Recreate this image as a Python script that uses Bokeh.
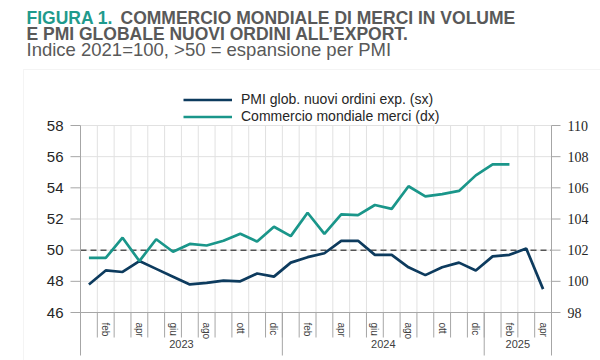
from bokeh.plotting import figure
from bokeh.models import (Range1d, LinearAxis, FixedTicker, Label, Legend, LegendItem,
                          BoxAnnotation)
from bokeh.embed import file_html
from bokeh.resources import INLINE

# ---------------- data ----------------
months = ["gen", "feb", "mar", "apr", "mag", "giu", "lug", "ago", "set", "ott", "nov", "dic",
          "gen", "feb", "mar", "apr", "mag", "giu", "lug", "ago", "set", "ott", "nov", "dic",
          "gen", "feb", "mar", "apr"]
years = ["2023", "2024", "2025"]
year_months = [12, 12, 4]
pmi = [47.8, 48.7, 48.6, 49.3, 48.8, 48.3, 47.8, 47.9, 48.05, 48.0, 48.5, 48.3,
       49.2, 49.55, 49.8, 50.6, 50.6, 49.7, 49.7, 48.9, 48.4, 48.9, 49.2, 48.7,
       49.6, 49.7, 50.1, 47.5]
trade = [101.5, 101.5, 102.8, 101.3, 102.7, 101.9, 102.4, 102.3, 102.6, 103.05, 102.55, 103.5,
         102.9, 104.4, 103.05, 104.3, 104.25, 104.9, 104.65, 106.1, 105.45, 105.6, 105.8, 106.8,
         107.5, 107.5]
left_ticks = [46, 48, 50, 52, 54, 56, 58]
right_ticks = [98, 100, 102, 104, 106, 108, 110]
threshold = 50
pmi_label = "PMI glob. nuovi ordini exp. (sx)"
trade_label = "Commercio mondiale merci (dx)"
title_a = "FIGURA 1."
title_b = "COMMERCIO MONDIALE DI MERCI IN VOLUME"
title_c = "E PMI GLOBALE NUOVI ORDINI ALL\u2019EXPORT."
subtitle = "Indice 2021=100, >50 = espansione per PMI"

NAVY = "#0d3b5e"
TEAL = "#1a968a"
TITLE_TEAL = "#1f9a8c"
GRAY = "#595959"
AXIS = "#a6a6a6"
GRID = "#e1e1e1"
FONT = "Liberation Sans"

W, H = 600, 360
# plot-area placement on the canvas (pixels)
PL, PR, PT, PB = 80, 551, 125, 312

n = len(months)
x_pmi = [i + 0.5 for i in range(len(pmi))]
x_trade = [i + 0.5 for i in range(len(trade))]

sx = (PR - PL) / n
sy = (PB - PT) / (left_ticks[-1] - left_ticks[0])
sr = (PB - PT) / (right_ticks[-1] - right_ticks[0])
x_range = Range1d(-PL / sx, n + (W - PR) / sx)
y_range = Range1d(left_ticks[0] - (H - PB) / sy, left_ticks[-1] + PT / sy)
r_range = Range1d(right_ticks[0] - (H - PB) / sr, right_ticks[-1] + PT / sr)

p = figure(width=W, height=H, x_range=x_range, y_range=y_range,
           x_axis_type=None, y_axis_type=None,
           output_backend="svg", toolbar_location=None,
           min_border=0, min_border_left=0, min_border_right=0,
           min_border_top=0, min_border_bottom=0)
p.outline_line_color = None
p.xgrid.visible = False
p.ygrid.visible = False
p.background_fill_color = "white"
p.border_fill_color = "white"
p.extra_y_ranges = {"right": r_range}

# grid (inside plot area only)
vx = list(range(1, n))
p.segment(x0=vx, y0=[left_ticks[0]] * len(vx), x1=vx, y1=[left_ticks[-1]] * len(vx),
          line_color=GRID, line_width=1)
p.segment(x0=[0] * len(left_ticks), y0=left_ticks, x1=[n] * len(left_ticks), y1=left_ticks,
          line_color=GRID, line_width=1)

# tick marks (lengths in pixels converted through the scales)
bounds = [0]
for m in year_months:
    bounds.append(bounds[-1] + m)
mb = list(range(n + 1))
base = left_ticks[0]
p.segment(x0=mb, y0=[base] * len(mb), x1=mb, y1=[base - 25 / sy] * len(mb),
          line_color=AXIS, line_width=1)
p.segment(x0=bounds, y0=[base] * len(bounds), x1=bounds, y1=[base - 43 / sy] * len(bounds),
          line_color=AXIS, line_width=1)
p.segment(x0=[-10 / sx] * len(left_ticks), y0=left_ticks, x1=[0] * len(left_ticks),
          y1=left_ticks, line_color=AXIS, line_width=1)
p.segment(x0=[n] * len(right_ticks), y0=right_ticks, x1=[n + 9 / sx] * len(right_ticks),
          y1=right_ticks, line_color=AXIS, line_width=1, y_range_name="right")


def style_axis(ax, standoff, line=True):
    ax.axis_line_color = AXIS if line else None
    ax.major_tick_line_color = None
    ax.major_tick_out = 0
    ax.major_tick_in = 0
    ax.minor_tick_line_color = None
    ax.minor_tick_out = 0
    ax.minor_tick_in = 0
    ax.major_label_standoff = standoff


# left axis
la = LinearAxis(fixed_location=0, bounds=(left_ticks[0], left_ticks[-1]),
                ticker=FixedTicker(ticks=left_ticks))
style_axis(la, 17)
la.major_label_text_font = FONT
la.major_label_text_font_size = "15px"
la.major_label_text_color = "#262626"
p.add_layout(la, "left")

# right axis
ra = LinearAxis(y_range_name="right", fixed_location=n,
                bounds=(right_ticks[0], right_ticks[-1]),
                ticker=FixedTicker(ticks=right_ticks))
style_axis(ra, 16)
ra.major_label_text_font = "Liberation Serif"
ra.major_label_text_font_size = "14px"
ra.major_label_text_color = "#262626"
p.add_layout(ra, "right")

# bottom axis: month names (every other month)
lab_idx = [i for i in range(n) if i % 2 == 1]
ml = LinearAxis(fixed_location=left_ticks[0], bounds=(0, n),
                ticker=FixedTicker(ticks=[x_pmi[i] for i in lab_idx]))
ml.major_label_overrides = {x_pmi[i]: months[i] for i in lab_idx}
style_axis(ml, 10)
ml.major_label_orientation = "vertical"
ml.major_label_text_font = FONT
ml.major_label_text_font_size = "10px"
ml.major_label_text_color = "#404040"
p.add_layout(ml, "below")

# bottom: year names
yc = [(bounds[i] + bounds[i + 1]) / 2 for i in range(len(years))]
yl = LinearAxis(fixed_location=left_ticks[0], bounds=(0, n),
                ticker=FixedTicker(ticks=yc))
yl.major_label_overrides = {c: t for c, t in zip(yc, years)}
style_axis(yl, 27, line=False)
yl.major_label_text_font = FONT
yl.major_label_text_font_size = "11px"
yl.major_label_text_color = "#404040"
p.add_layout(yl, "below")

# threshold line
p.segment(x0=[0], y0=[threshold], x1=[n], y1=[threshold],
          line_color="#555555", line_width=1.5, line_dash="6 4")

r_pmi = p.line(x_pmi, pmi, line_color=NAVY, line_width=2.7)
r_trade = p.line(x_trade, trade, line_color=TEAL, line_width=2.7, y_range_name="right")

# legend
legend = Legend(items=[LegendItem(label=pmi_label, renderers=[r_pmi]),
                       LegendItem(label=trade_label, renderers=[r_trade])],
                location=(183, H - 124.5), orientation="vertical",
                glyph_width=49, glyph_height=17, label_height=17, label_standoff=9,
                spacing=0, padding=0, margin=0, border_line_color=None,
                background_fill_alpha=0, label_text_font=FONT,
                label_text_font_size="14px", label_text_color="#262626")
p.add_layout(legend)


# titles
def lab(x, ybase, text, color, size, bold):
    p.add_layout(Label(x=x, y=H - ybase, x_units="screen", y_units="screen", text=text,
                       text_font=FONT, text_font_style="bold" if bold else "normal",
                       text_font_size=size, text_color=color, text_baseline="alphabetic"))


lab(26, 17.5, title_a, TITLE_TEAL, "17.5px", True)
lab(120, 17.5, title_b, GRAY, "17.5px", True)
lab(26, 33.5, title_c, GRAY, "17.5px", True)
lab(26, 48.5, subtitle, GRAY, "18.5px", False)

# outer box of the figure panel
p.add_layout(BoxAnnotation(left=23, right=W + 50, top=H - 69, bottom=-50,
                           left_units="screen", right_units="screen",
                           top_units="screen", bottom_units="screen",
                           fill_alpha=0, line_color="#d9d9d9", line_width=1))

open("out.html", "w").write(file_html(p, INLINE))
